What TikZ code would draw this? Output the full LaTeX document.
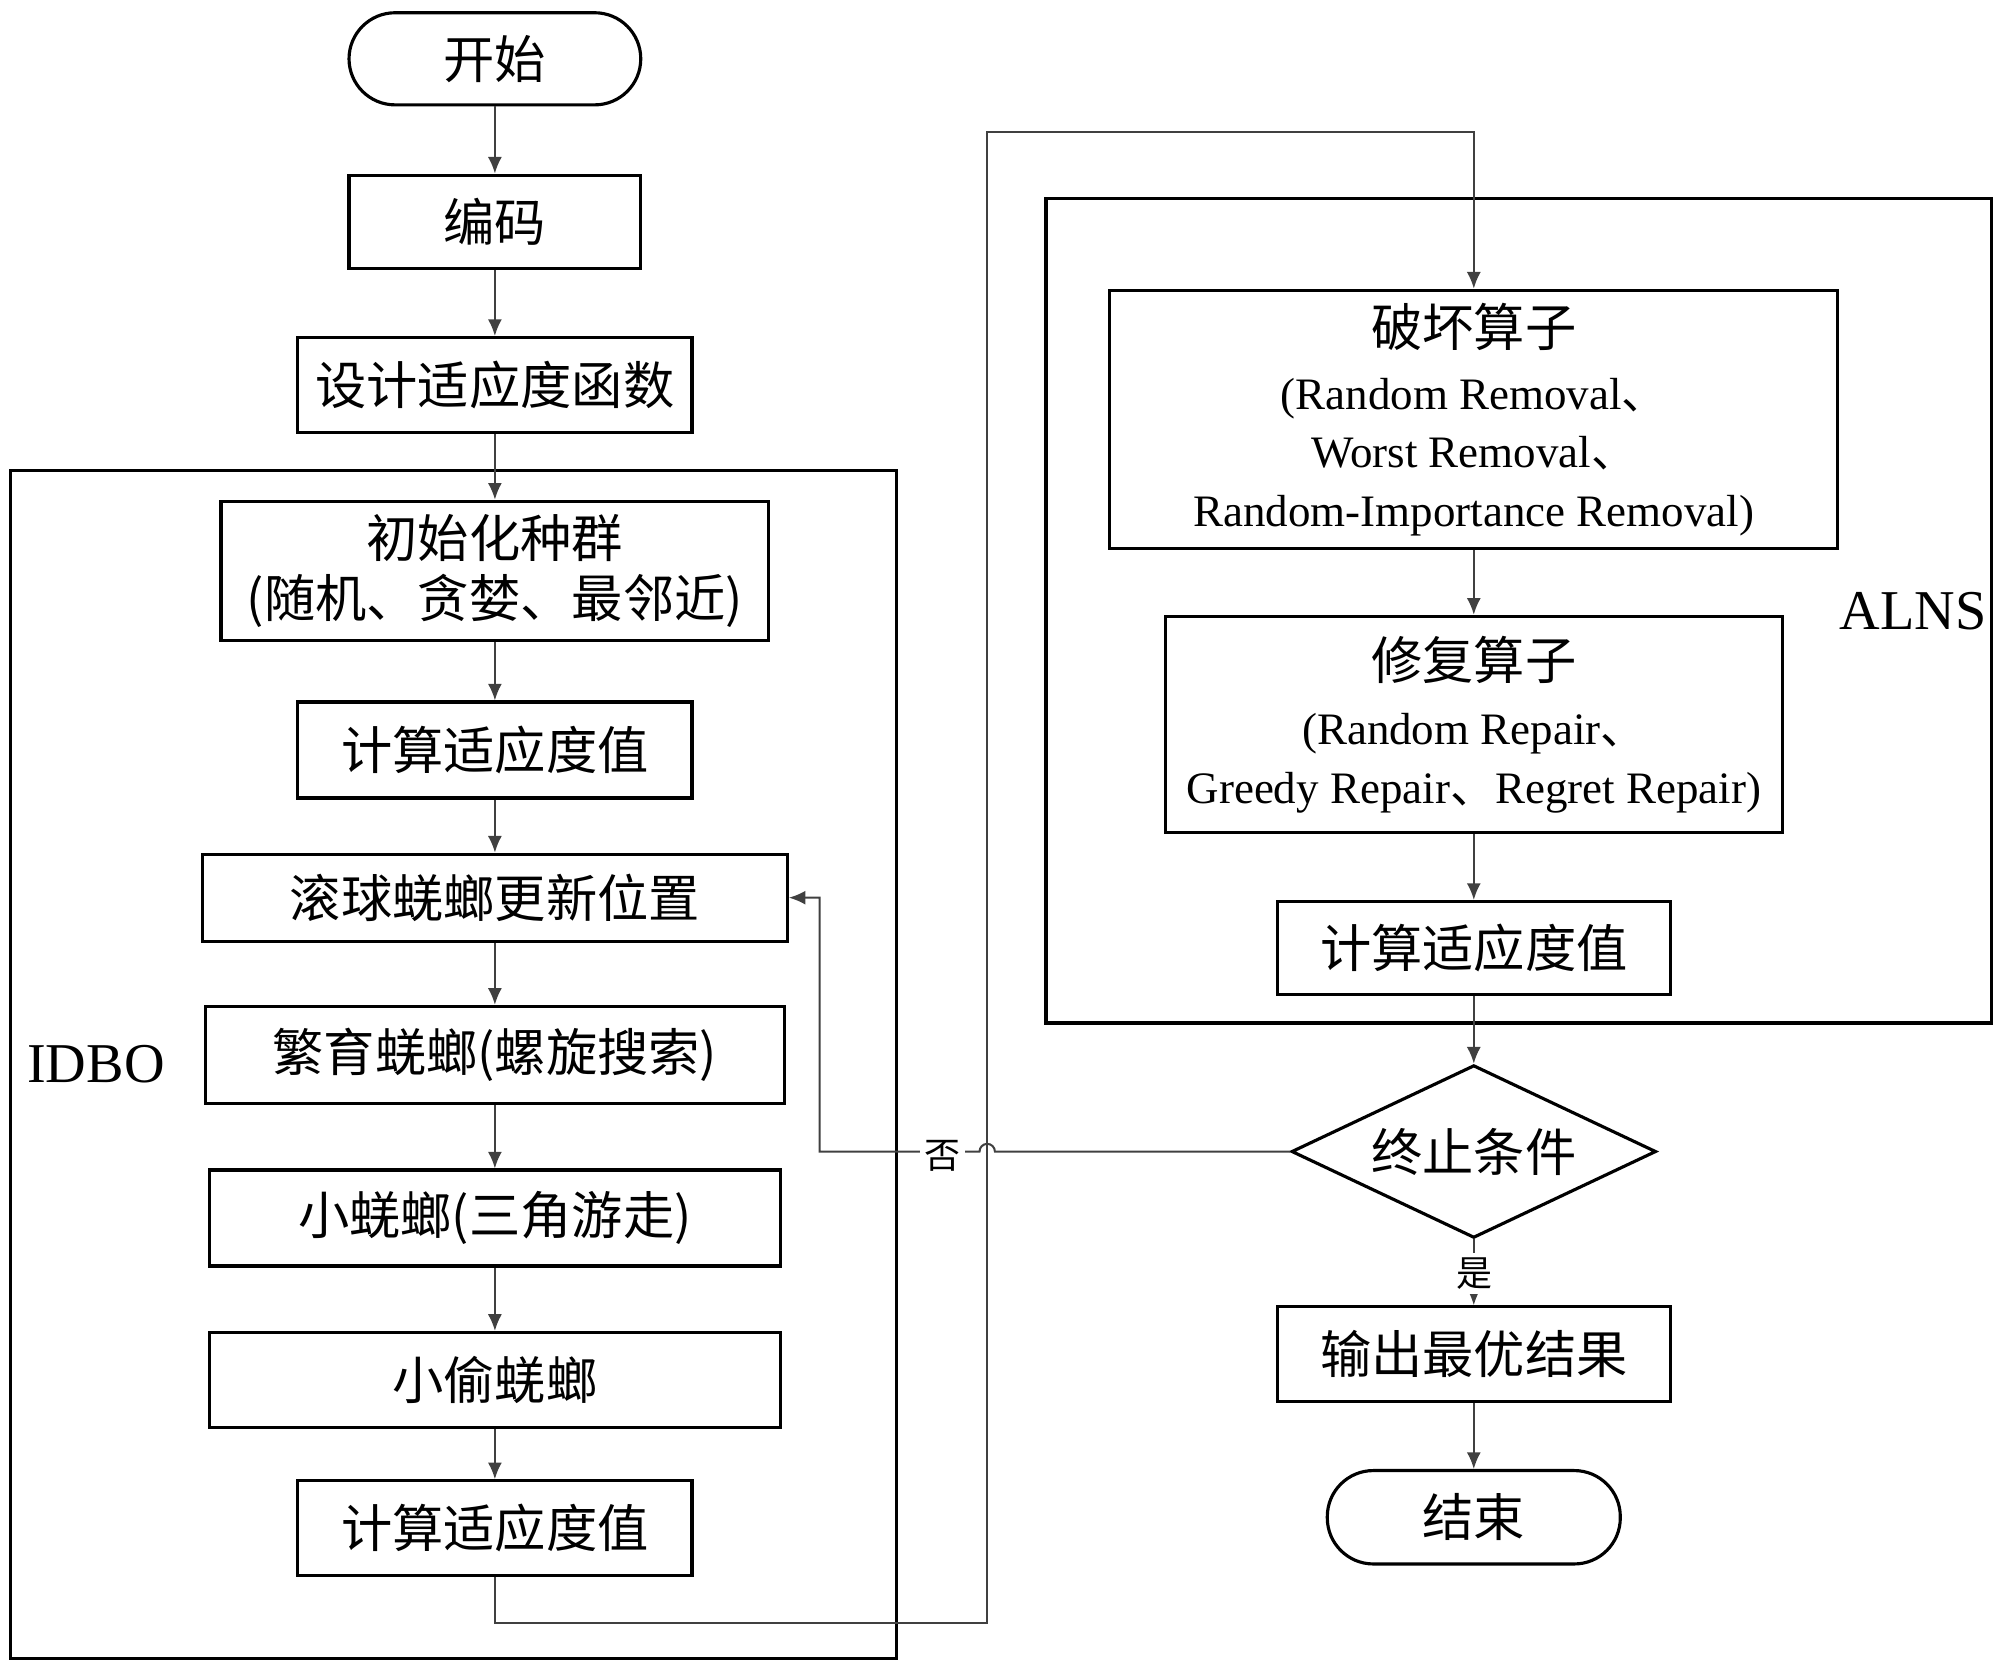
\documentclass[tikz,border=0pt]{standalone}
\usepackage{fontspec}
\setmainfont{Liberation Serif}
\newfontfamily\zh{Noto Sans CJK SC}
\usetikzlibrary{shapes.geometric,arrows.meta}

\begin{document}
\begin{tikzpicture}[x=0.01cm,y=-0.01cm]
			\tikzstyle{box}=[rectangle,draw,line width=0.7pt,inner sep=0,align=center,font=\zh\fontsize{11.4}{13.4}\selectfont]
			\tikzstyle{term}=[box,rounded corners=3.6mm]
			\tikzset{
				frame/.style={draw,line width=0.7pt},
				conn/.style={draw=black!75,line width=0.45pt},
				arr/.style={conn,-{Latex[length=1.3mm,width=1.1mm]}},
				tag/.style={fill=white,inner sep=1pt,font=\zh\fontsize{8}{8}\selectfont},
				lbl/.style={font=\fontsize{12.5}{14}\selectfont}
			}
			\useasboundingbox (0,0) rectangle (1564,1304);
			% the two frames
			\draw[frame] (8,368) rectangle (701,1297);
			\draw[frame] (818,155) rectangle (1557,800);
			\node[lbl] (idbo) at (75,832) {IDBO};
			\node[lbl] (alns) at (1496,478) {ALNS};
			% left column
			\node[term,minimum width=2.28cm,minimum height=0.72cm] (start) at (387,46) {开始};
			\node[box,minimum width=2.28cm,minimum height=0.73cm] (code) at (387,173.5) {编码};
			\node[box,minimum width=3.08cm,minimum height=0.74cm] (fitfun) at (387,301) {设计适应度函数};
			\node[box,minimum width=4.28cm,minimum height=1.09cm] (init) at (387,446.5) {初始化种群\\(随机、贪婪、最邻近)};
			\node[box,minimum width=3.08cm,minimum height=0.75cm] (fit1) at (387,586.5) {计算适应度值};
			\node[box,minimum width=4.57cm,minimum height=0.68cm] (roll) at (387,702) {滚球蜣螂更新位置};
			\node[box,minimum width=4.53cm,minimum height=0.76cm] (breed) at (387,825) {繁育蜣螂(螺旋搜索)};
			\node[box,minimum width=4.46cm,minimum height=0.75cm] (small) at (387,952.5) {小蜣螂(三角游走)};
			\node[box,minimum width=4.46cm,minimum height=0.74cm] (thief) at (387,1079) {小偷蜣螂};
			\node[box,minimum width=3.08cm,minimum height=0.74cm] (fit2) at (387,1195) {计算适应度值};
			% right column
			\node[box,minimum width=5.69cm,minimum height=2.02cm,font=\fontsize{10}{13}\selectfont] (destroy) at (1152.5,328)
				{{\zh\fontsize{11.4}{13.4}\selectfont 破坏算子}\\[1pt]
				(Random Removal{\zh 、}\\
				Worst Removal{\zh 、}\\
				Random-Importance Removal)};
			\node[box,minimum width=4.82cm,minimum height=1.69cm,font=\fontsize{10}{13}\selectfont] (repair) at (1152.5,566.5)
				{{\zh\fontsize{11.4}{13.4}\selectfont 修复算子}\\[1.5pt]
				(Random Repair{\zh 、}\\
				Greedy Repair{\zh 、}Regret Repair)};
			\node[box,minimum width=3.07cm,minimum height=0.73cm] (fit3) at (1152.5,741.5) {计算适应度值};
			\node[box,diamond,aspect=2.1,minimum width=2.85cm,minimum height=1.35cm] (stop) at (1152.5,900.5) {终止条件};
			\node[box,minimum width=3.07cm,minimum height=0.74cm] (output) at (1152.5,1059) {输出最优结果};
			\node[term,minimum width=2.29cm,minimum height=0.73cm] (end) at (1152.5,1186.5) {结束};
			% connectors
			\foreach \a/\b in {start/code,code/fitfun,fitfun/init,init/fit1,fit1/roll,roll/breed,breed/small,small/thief,thief/fit2,destroy/repair,repair/fit3,fit3/stop,stop/output,output/end}
				\draw[arr] (\a.south) -- (\b.north);
			\coordinate (loopA) at (772,1269);
			\coordinate (loopB) at (772,103);
			\draw[arr] (fit2.south) |- (loopA) -- (loopB) -| (destroy.north);
			\coordinate (hop) at (778,900.5);
			\coordinate (back) at (641,900.5);
			\draw[arr] (stop.west) -- (hop) arc[start angle=0,end angle=180,radius=0.6mm] -- (back) |- (roll.east);
			\node[tag] (no) at (737,904) {否};
			\node[tag] (yes) at (1153,996) {是};
\end{tikzpicture}
\end{document}
